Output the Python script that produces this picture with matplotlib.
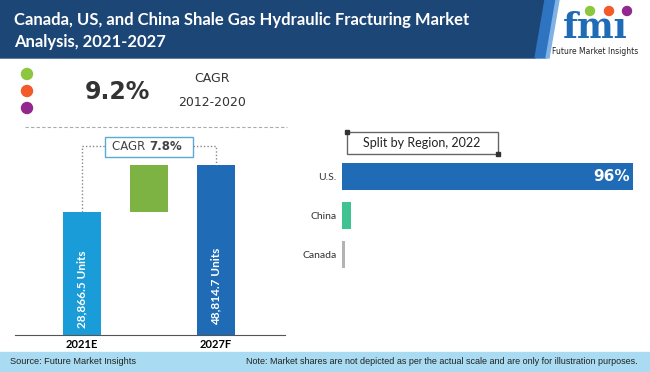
import matplotlib.pyplot as plt
from matplotlib.patches import Rectangle, Polygon, Circle

# data
years = ["2021E", "2027F"]
units = [28866.5, 48814.7]
cagr_forecast = "7.8%"
cagr_hist = "9.2%"
hist_period = "2012-2020"
regions = ["U.S.", "China", "Canada"]
shares = [96, 3, 1]
region_colors = ["#1f6bb5", "#3ec391", "#b3b3b3"]

W, H = 650, 372
fig = plt.figure(figsize=(6.5, 3.72), dpi=100)

# pixel overlay for decoration
bg = fig.add_axes([0, 0, 1, 1])
bg.set_xlim(0, W)
bg.set_ylim(H, 0)
bg.axis("off")

def fx(px):
    return px / W

def fy(py):
    return 1 - py / H

# header band
bg.add_patch(Polygon([(0, 0), (545, 0), (535, 58), (0, 58)], color="#1b4676", zorder=1))
bg.add_patch(Polygon([(545, 0), (556, 0), (546, 58), (535, 58)], color="#2f74c0", zorder=1))
bg.add_patch(Polygon([(556, 0), (559, 0), (549, 58), (546, 58)], color="#7fb2e5", zorder=1))
bg.text(14, 20, "Canada, US, and China Shale Gas Hydraulic Fracturing Market",
        color="white", fontsize=12, fontweight="bold", family="Lato", va="center", zorder=2)
bg.text(14, 42, "Analysis, 2021-2027",
        color="white", fontsize=12, fontweight="bold", family="Lato", va="center", zorder=2)

# logo
bg.text(595, 38, "fmı", color="#1f6bb5", fontsize=25, fontweight="bold",
        family="DejaVu Serif", ha="center", va="baseline", zorder=2)
for cx, c in zip([590, 609, 627], ["#8dc63f", "#f15a29", "#92278f"]):
    bg.add_patch(Circle((cx, 11), 4.5, color=c, zorder=3))
bg.text(595, 52, "Future Market Insights", color="#222222", fontsize=5.5,
        ha="center", va="center", zorder=2)

# dots and historical CAGR
for cy, c in zip([74, 91, 108], ["#8dc63f", "#f15a29", "#92278f"]):
    bg.add_patch(Circle((27, cy), 5.5, color=c, zorder=2))
bg.text(117, 92, cagr_hist, fontsize=17, fontweight="bold", color="#333333",
        family="DejaVu Sans", ha="center", va="center")
bg.text(212, 79, "CAGR", fontsize=9, color="#333333", ha="center", va="center")
bg.text(212, 103, hist_period, fontsize=9, color="#333333", ha="center", va="center")
bg.plot([25, 287], [127, 127], ls=(0, (3, 2)), color="#aaaaaa", lw=0.8)

# footer
bg.add_patch(Rectangle((0, 352), W, 20, color="#a9dcf2", zorder=1))
bg.text(10, 362, "Source: Future Market Insights", fontsize=6.6, color="#222222",
        family="Liberation Sans", va="center", zorder=2)
bg.text(246, 362, "Note: Market shares are not depicted as per the actual scale and are only for illustration purposes.",
        fontsize=6.5, color="#222222", family="Liberation Sans", va="center", zorder=2)

# left waterfall
base = -23338
ax = fig.add_axes([fx(15), fy(335), fx(270), (335 - 165) / H])
ax.set_xlim(-1.0, 3.03)
ax.set_ylim(base, units[1])
ax.bar([0], [units[0] - base], bottom=base, width=0.58, color="#1a9cd8")
ax.bar([2], [units[1] - base], bottom=base, width=0.58, color="#1f6bb5")
ax.bar([1], [units[1] - units[0]], bottom=units[0], width=0.58, color="#7cb342")
for xi, v in zip([0, 2], units):
    ax.text(xi, base + (v - base) * 0.06, f"{v:,.1f} Units", rotation=90, color="white",
            fontsize=8.5, fontweight="bold", family="Lato", ha="center", va="bottom")
for s in ["top", "right", "left"]:
    ax.spines[s].set_visible(False)
ax.spines["bottom"].set_color("#555555")
ax.set_yticks([])
ax.set_xticks([0, 2])
ax.set_xticklabels(years, fontsize=8, fontweight="bold", family="Lato")
ax.tick_params(axis="x", length=0, pad=3)
ax.set_facecolor("none")

# CAGR connector
ytop = units[1] + 19 * 424.4
ax.plot([0, 0, 0.34], [units[0], ytop, ytop], ls=(0, (1, 1.5)), color="#888888", lw=1, clip_on=False)
ax.plot([1.66, 2, 2], [ytop, ytop, units[1]], ls=(0, (1, 1.5)), color="#888888", lw=1, clip_on=False)
bg.add_patch(Rectangle((105, 137), 88, 20, fill=False, ec="#5aaad8", lw=1))
bg.text(149, 147, "CAGR ", fontsize=8.5, color="#444444", ha="right", va="center")
bg.text(149, 147, cagr_forecast, fontsize=8.5, color="#444444", fontweight="bold", ha="left", va="center")

# right bars
ax2 = fig.add_axes([fx(342), fy(278), fx(303), (278 - 152.5) / H])
ax2.barh(range(len(regions)), shares, height=0.69, color=region_colors)
ax2.set_xlim(0, 100)
ax2.set_ylim(2.6, -0.6)
ax2.set_yticks(range(len(regions)))
ax2.set_yticklabels(regions, fontsize=7.5, color="#333333", family="Lato")
ax2.tick_params(axis="y", length=0, pad=4)
ax2.set_xticks([])
for s in ax2.spines.values():
    s.set_visible(False)
ax2.set_facecolor("none")
ax2.text(shares[0] - 1, 0, f"{shares[0]}%", color="white", fontsize=11, fontweight="bold",
         family="DejaVu Sans", ha="right", va="center")

bg.add_patch(Rectangle((347, 132), 151, 22, fill=False, ec="#666666", lw=1))
bg.add_patch(Rectangle((345, 130), 4, 4, color="#333333"))
bg.add_patch(Rectangle((496, 152), 4, 4, color="#333333"))
bg.text(422, 143, "Split by Region, 2022", fontsize=9, color="#222222",
        family="Lato", ha="center", va="center")

fig.savefig("out.png", dpi=100)
